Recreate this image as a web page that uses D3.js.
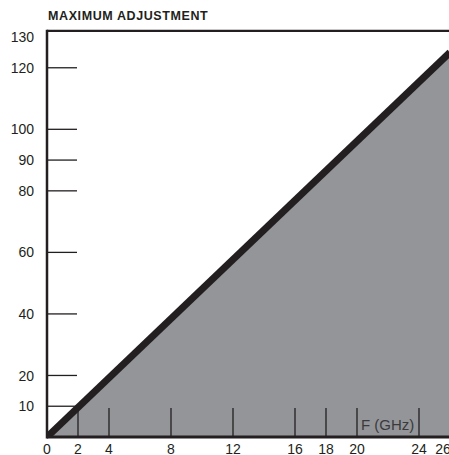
<!DOCTYPE html>
<html>
<head>
<meta charset="utf-8">
<script src="https://cdn.jsdelivr.net/npm/d3@7"></script>
<style>
	body { margin: 0; background: #fff; }
	svg { display: block; font-family: "Liberation Sans", Arial, sans-serif; }
</style>
</head>
<body>
<div id="chartContainer"></div>
<script>
"use strict";

// values
var limitFreq = [0, 26];           // GHz
var limitAdjust = [0, 125];        // maximum adjustment at those frequencies
var yTickValues = [10, 20, 40, 60, 80, 90, 100, 120];
var yLabelValues = [10, 20, 40, 60, 80, 90, 100, 120, 130];
var xTickValues = [2, 4, 8, 12, 16, 18, 20, 24];
var xLabelValues = [0, 2, 4, 8, 12, 16, 18, 20, 24, 26];

const width = 449, height = 455;
const ink = "#231f20";

let x = d3.scaleLinear().domain([0, 26]).range([47, 450]);
let y = d3.scaleLinear().domain([0, 130]).range([437, 37]);

let svg = d3.select("#chartContainer")
	.append("svg")
	.attr("width", width)
	.attr("height", height);

let pts = limitFreq.map((f, i) => [f, limitAdjust[i]]);

// shaded region under the limit line
let area = d3.area()
	.x(d => x(d[0]))
	.y0(y(0))
	.y1(d => y(d[1]));

svg.append("path")
	.datum(pts)
	.attr("d", area)
	.attr("fill", "#939598");

// y ticks (inside, to the right of the axis)
svg.selectAll("line.ytick")
	.data(yTickValues)
	.enter()
	.append("line")
		.attr("class", "ytick")
		.attr("x1", x(0))
		.attr("x2", x(0) + 30)
		.attr("y1", d => y(d))
		.attr("y2", d => y(d))
		.attr("stroke", ink)
		.attr("stroke-width", 1.3);

// x ticks (going up from the axis)
svg.selectAll("line.xtick")
	.data(xTickValues)
	.enter()
	.append("line")
		.attr("class", "xtick")
		.attr("x1", d => x(d))
		.attr("x2", d => x(d))
		.attr("y1", y(0))
		.attr("y2", y(0) - 29)
		.attr("stroke", ink)
		.attr("stroke-width", 1.3);

// the limit line
svg.append("clipPath")
	.attr("id", "plotClip")
	.append("rect")
		.attr("x", x(0))
		.attr("y", y(132))
		.attr("width", x(26) - x(0))
		.attr("height", y(0) - y(132));

svg.append("path")
	.datum(pts)
	.attr("d", d3.line().x(d => x(d[0])).y(d => y(d[1])))
	.attr("clip-path", "url(#plotClip)")
	.attr("fill", "none")
	.attr("stroke", ink)
	.attr("stroke-width", 7);

// frame: left axis, bottom axis, top border
svg.append("line")
	.attr("x1", x(0)).attr("x2", x(0))
	.attr("y1", y(132) - 1).attr("y2", y(0) + 1.5)
	.attr("stroke", ink).attr("stroke-width", 2.5);
svg.append("line")
	.attr("x1", x(0)).attr("x2", width)
	.attr("y1", y(0)).attr("y2", y(0))
	.attr("stroke", ink).attr("stroke-width", 3);
svg.append("line")
	.attr("x1", x(0)).attr("x2", width)
	.attr("y1", y(132)).attr("y2", y(132))
	.attr("stroke", ink).attr("stroke-width", 2.2);

// labels
svg.selectAll("text.ylabel")
	.data(yLabelValues)
	.enter()
	.append("text")
		.attr("class", "ylabel")
		.attr("x", 34)
		.attr("y", d => y(d))
		.attr("dy", "0.36em")
		.attr("text-anchor", "end")
		.attr("font-size", 14)
		.attr("fill", ink)
		.text(d => d);

svg.selectAll("text.xlabel")
	.data(xLabelValues)
	.enter()
	.append("text")
		.attr("class", "xlabel")
		.attr("x", d => x(d))
		.attr("dx", d => d === 26 ? -7 : 0)   // last label sits a bit left of its tick
		.attr("y", y(0) + 16.5)
		.attr("text-anchor", "middle")
		.attr("font-size", 14)
		.attr("fill", ink)
		.text(d => d);

svg.append("text")
	.attr("x", x(20) + 4)
	.attr("y", y(0) - 7)
	.attr("font-size", 15)
	.attr("fill", "#3a3a3c")
	.text("F (GHz)");

svg.append("text")
	.attr("x", 48)
	.attr("y", 20)
	.attr("font-size", 12.5)
	.attr("font-weight", "bold")
	.attr("letter-spacing", 0.6)
	.attr("fill", ink)
	.text("MAXIMUM ADJUSTMENT");
</script>
</body>
</html>
